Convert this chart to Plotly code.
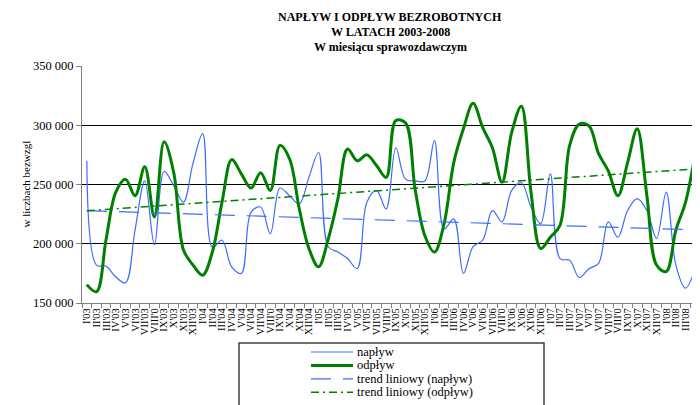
"""Napływ i odpływ bezrobotnych 2003-2008 — line chart with linear trends"""

import numpy as np
import plotly.graph_objects as go

ROMAN = ["I", "II", "III", "IV", "V", "VI", "VII", "VIII", "IX", "X", "XI", "XII"]

# month labels as printed on the axis (VIII'yy is cut to VIII'0 in the original)
MONTHS = []
for yr in ["03", "04", "05", "06", "07", "08"]:
    for m in ROMAN:
        lab = f"{m}'{yr}"
        if m == "VIII":
            lab = "VIII'0"
        MONTHS.append(lab)
MONTHS = MONTHS[:64]  # I'03 .. IV'08

NAPLYW = [
    270000, 182000, 181000, 172000, 167000, 212000, 253000, 199000, 261000, 249000, 235000, 268000,
    293000, 197000, 203000, 180500, 175000, 226500, 231000, 208500, 247000, 240500, 233500, 256000,
    277000, 197500, 193000, 187500, 179000, 235000, 245000, 229500, 281000, 254500, 253000, 253000,
    287000, 212500, 221000, 175000, 197500, 203000, 228000, 218500, 245000, 251500, 231000, 217000,
    259000, 187500, 186000, 171500, 179000, 183500, 218500, 205500, 228000, 238000, 228000, 204500,
    243500, 182000, 162500, 179000,
]

ODPLYW = [
    165500, 159500, 204000, 243500, 254500, 240500, 265000, 222500, 286000, 260000, 195000, 182000,
    173500, 193000, 235000, 271000, 259000, 247000, 260000, 245000, 283000, 271500, 229500, 196000,
    180500, 204000, 238000, 280000, 270000, 275000, 266000, 256000, 304000, 302000, 246000, 207000,
    193000, 217000, 268500, 297000, 318500, 298000, 281000, 252000, 294000, 316000, 243500, 196000,
    205500, 215500, 283000, 301000, 299500, 276000, 261500, 240500, 268500, 297000, 240500, 182000,
    176500, 211500, 235000, 276000,
]

Y_TICKS = [150000, 200000, 250000, 300000, 350000]
Y_TICK_TEXT = ["150 000", "200 000", "250 000", "300 000", "350 000"]

TITLE_LINES = ["NAPŁYW I ODPŁYW BEZROBOTNYCH", "W LATACH 2003-2008", "W miesiącu sprawozdawczym"]

SERIF = "Liberation Serif, Times New Roman, serif"
BLUE = "#3c6cff"
GREEN = "#008000"

# the page body has an 8px margin, so the figure is shifted; work in page pixels
OFF = 8
W, H = 700 - OFF, 405 - OFF
L, R, T, B = 82, 700, 66, 303   # plot area in page pixels


def px(xp):
    return (xp - L) / (R - L)


def py(yp):
    return (B - yp) / (B - T)


x = list(range(len(MONTHS)))

# linear trend lines, as in the spreadsheet
trend_n = np.polyval(np.polyfit(x, NAPLYW, 1), x)
trend_o = np.polyval(np.polyfit(x, ODPLYW, 1), x)

styles = [
    ("napływ", dict(color=BLUE, width=1.2)),
    ("odpływ", dict(color=GREEN, width=3)),
    ("trend liniowy (napływ)", dict(color=BLUE, width=1.2, dash="20px,12px")),
    ("trend liniowy (odpływ)", dict(color=GREEN, width=1.5, dash="8px,4px,2px,4px")),
]

fig = go.Figure()
fig.add_trace(go.Scatter(x=x, y=NAPLYW, name=styles[0][0], mode="lines",
                         line=dict(**styles[0][1], shape="spline", smoothing=1.0)))
fig.add_trace(go.Scatter(x=x, y=ODPLYW, name=styles[1][0], mode="lines",
                         line=dict(**styles[1][1], shape="spline", smoothing=1.0)))
fig.add_trace(go.Scatter(x=x, y=trend_n, name=styles[2][0], mode="lines", line=styles[2][1]))
fig.add_trace(go.Scatter(x=x, y=trend_o, name=styles[3][0], mode="lines", line=styles[3][1]))

fig.update_layout(
    width=W,
    height=H,
    margin=dict(l=L - OFF, r=700 - R, t=T - OFF, b=405 - B),
    plot_bgcolor="white",
    paper_bgcolor="white",
    font=dict(family=SERIF, size=11, color="black"),
    showlegend=False,
    xaxis=dict(
        range=[-0.5, len(MONTHS) - 0.5],
        tickvals=x, ticktext=MONTHS, tickangle=-90,
        tickfont=dict(family=SERIF, size=10.5),
        ticks="", showgrid=False, zeroline=False, automargin=False,
        showline=True, linecolor="#808080", linewidth=1,
        minor=dict(tick0=0.5, dtick=1, ticks="outside", ticklen=4,
                   tickcolor="#808080", showgrid=False),
    ),
    yaxis=dict(
        range=[150000, 350000],
        tickvals=Y_TICKS, ticktext=Y_TICK_TEXT,
        tickfont=dict(family=SERIF, size=12.5),
        ticks="outside", ticklen=5, tickcolor="#808080", automargin=False,
        showgrid=True, gridcolor="black", gridwidth=1,
        zeroline=False, showline=True, linecolor="#808080", linewidth=1,
    ),
)

# title, one line at a time
for i, line in enumerate(TITLE_LINES):
    fig.add_annotation(text=f"<b>{line}</b>", xref="paper", yref="paper",
                       x=px(390), y=py(17 + 15 * i), xanchor="center", yanchor="middle",
                       showarrow=False, font=dict(family=SERIF, size=12))

# hand-drawn legend: frame runs off the bottom edge like in the original
fig.add_shape(type="rect", xref="paper", yref="paper",
              x0=px(239), x1=px(544), y0=py(343), y1=py(420),
              line=dict(color="#404040", width=1.5), fillcolor="rgba(0,0,0,0)")
for i, (name, ln) in enumerate(styles):
    yy = py(352 + 13.4 * i)
    fig.add_shape(type="line", xref="paper", yref="paper",
                  x0=px(311), x1=px(353), y0=yy, y1=yy, line=ln)
    fig.add_annotation(text=name, xref="paper", yref="paper", x=px(355), y=yy,
                       xanchor="left", yanchor="middle", showarrow=False,
                       font=dict(family=SERIF, size=12.5))

fig.add_annotation(text="w liczbach bezwzgl", xref="paper", yref="paper",
                   x=px(17), y=0.5, textangle=-90, showarrow=False,
                   font=dict(family=SERIF, size=11))

fig.write_html("out.html")
